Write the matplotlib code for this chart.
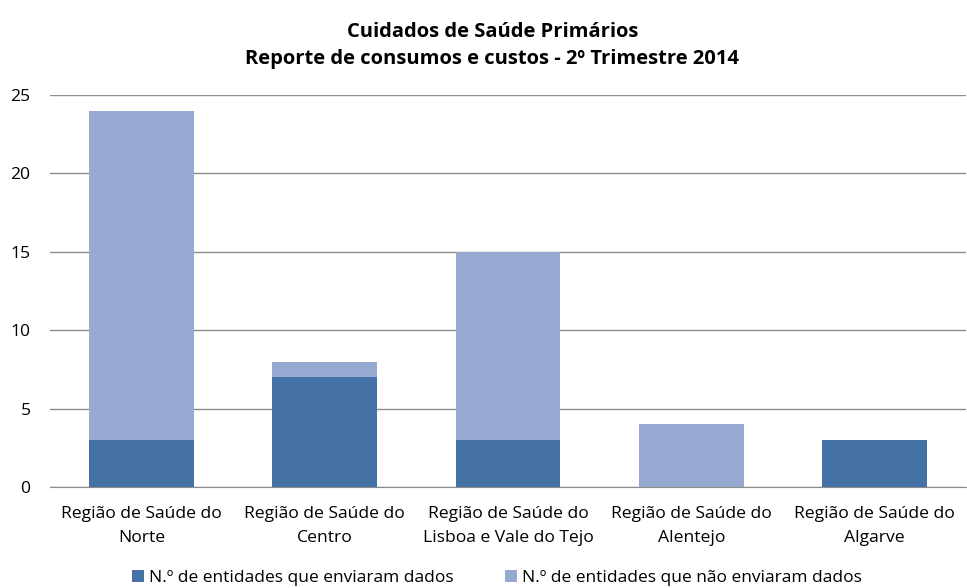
import numpy as np
import matplotlib.pyplot as plt

plt.rcParams['font.family'] = ['Open Sans', 'DejaVu Sans']

# ====================== DADOS ======================
regioes = ['Região de Saúde do\nNorte', 'Região de Saúde do\nCentro',
           'Região de Saúde do\nLisboa e Vale do Tejo', 'Região de Saúde do\nAlentejo',
           'Região de Saúde do\nAlgarve']
enviaram = [3, 7, 3, 0, 3]
nao_enviaram = [21, 1, 12, 4, 0]

c_escuro = '#4472A7'
c_claro = '#95A9D1'

# ====================== PLOT ======================
fig = plt.figure(figsize=(9.67, 5.88), dpi=100)
ax = fig.add_axes([50 / 967, 1 - 487 / 588, 916 / 967, 392 / 588])

x = np.arange(len(regioes))
ax.bar(x, enviaram, width=0.573, color=c_escuro, label='N.º de entidades que enviaram dados', zorder=2)
ax.bar(x, nao_enviaram, width=0.573, bottom=enviaram, color=c_claro,
       label='N.º de entidades que não enviaram dados', zorder=2)

ax.set_xlim(-0.5, len(regioes) - 0.5)
ax.set_ylim(0, 25)
ax.set_yticks(range(0, 26, 5))
ax.set_xticks(x)
ax.set_xticklabels(regioes, fontsize=12.6, linespacing=1.6)
ax.tick_params(axis='y', length=0, labelsize=12.6, pad=14)
ax.tick_params(axis='x', length=0, pad=14)
ax.grid(axis='y', color='#8c8c8c', linewidth=1, zorder=0)

for s in ['top', 'right', 'left']:
    ax.spines[s].set_visible(False)
ax.spines['bottom'].set_color('#8c8c8c')

fig.text(0.509, 0.923, 'Cuidados de Saúde Primários\nReporte de consumos e custos - 2º Trimestre 2014',
         ha='center', va='center', fontsize=14.5, fontweight='bold', linespacing=1.5)

fig.legend(loc='center', bbox_to_anchor=(0.514, 1 - 578 / 588), ncol=2, frameon=False,
           fontsize=12.5, handlelength=0.65, handleheight=0.65, columnspacing=3.0, handletextpad=0.3)

fig.savefig('out.png', dpi=100)
